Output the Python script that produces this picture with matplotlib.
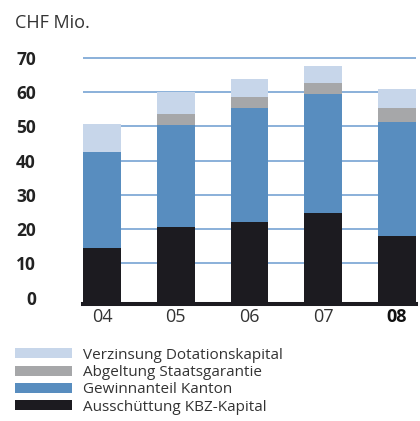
import numpy as np
import matplotlib.pyplot as plt
from matplotlib.patches import Patch

plt.rcParams['font.family'] = ['Open Sans', 'DejaVu Sans']

years = ["04", "05", "06", "07", "08"]
ausschuettung = [14.5, 20.6, 22.1, 24.7, 18.0]
gewinnanteil = [27.9, 29.8, 33.1, 34.6, 33.2]
abgeltung = [0.0, 3.1, 3.2, 3.2, 4.0]
verzinsung = [8.2, 6.4, 5.3, 5.2, 5.6]

labels = ["Verzinsung Dotationskapital", "Abgeltung Staatsgarantie",
          "Gewinnanteil Kanton", "Ausschüttung KBZ-Kapital"]
colors = ["#c7d6ea", "#a6a7a9", "#588dbf", "#1c1b20"]

floor = -1.87  # axis floor sits a bit below zero
x = np.arange(len(years))
w = 0.515

fig = plt.figure(figsize=(4.2, 4.21), dpi=100)
ax = fig.add_axes([0.1976, 0.2779, 0.7929, 0.5874])

for v in range(10, 80, 10):
    ax.axhline(v, color="#6b9bd0", lw=1.1, zorder=0)

a = np.array(ausschuettung)
g = np.array(gewinnanteil)
s = np.array(abgeltung)
z = np.array(verzinsung)
ax.bar(x, a - floor, w, bottom=floor, color=colors[3], zorder=2)
ax.bar(x, g, w, bottom=a, color=colors[2], zorder=2)
ax.bar(x, s, w, bottom=a + g, color=colors[1], zorder=2)
ax.bar(x, z, w, bottom=a + g + s, color=colors[0], zorder=2)

ax.set_xlim(-w / 2, len(years) - 1 + w / 2)
ax.set_ylim(floor, 70.3)

for sp in ["top", "right", "left"]:
    ax.spines[sp].set_visible(False)
ax.spines["bottom"].set_linewidth(2.9)
ax.spines["bottom"].set_color("#1c1b20")
ax.spines["bottom"].set_zorder(3)

ax.set_yticks(range(0, 80, 10))
ax.set_yticklabels([str(v) for v in range(0, 80, 10)], fontsize=12.5,
                   fontweight="bold", color="#222222")
ax.tick_params(axis="y", length=0, pad=34)
ax.set_xticks(x)
ax.set_xticklabels(years, fontsize=13, color="#333333")
ax.get_xticklabels()[-1].set_fontweight("bold")
ax.get_xticklabels()[-1].set_color("#111111")
ax.tick_params(axis="x", length=0, pad=3)

fig.text(15 / 420, 1 - 23 / 421, "CHF Mio.", fontsize=13, color="#333333",
         va="center", ha="left")

handles = [Patch(facecolor=c, edgecolor="none") for c in colors]
fig.legend(handles, labels, loc="upper left", bbox_to_anchor=(0.0357, 0.174),
           frameon=False, fontsize=11, handlelength=3.73, handleheight=0.65,
           handletextpad=0.72, labelspacing=0.15, borderaxespad=0,
           borderpad=0, labelcolor="#333333")

fig.savefig("out.png", dpi=100)
